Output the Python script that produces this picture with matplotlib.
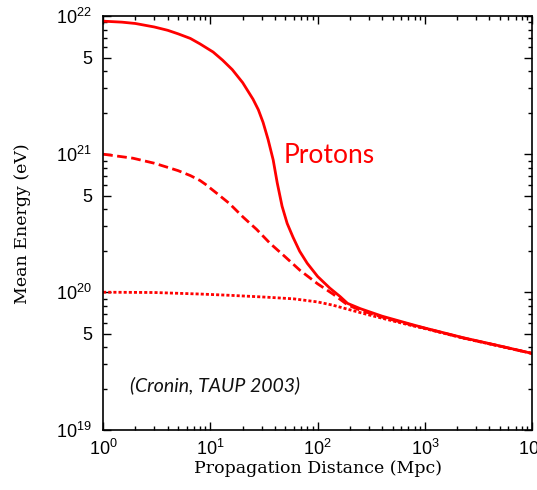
import matplotlib
matplotlib.use("Agg")
import matplotlib.pyplot as plt
from matplotlib.ticker import FixedLocator, LogLocator, NullFormatter

# Mean energy vs propagation distance (proton primaries)
dist_a = [1, 1.5, 2, 3, 4, 5, 6.5, 8, 10.6, 13, 16, 20, 25, 28, 31, 34.5, 38.5,
          42, 46.6, 52, 59, 68, 80, 100, 130, 162, 190, 250, 400, 776, 1000,
          2275, 5000, 10000]
energy_a = [9.2e21, 9.05e21, 8.85e21, 8.35e21, 7.9e21, 7.45e21, 6.9e21, 6.3e21,
            5.5e21, 4.8e21, 4.1e21, 3.3e21, 2.5e21, 2.1e21, 1.7e21, 1.28e21,
            9.1e20, 6.2e20, 4.2e20, 3.15e20, 2.5e20, 1.98e20, 1.62e20, 1.3e20,
            1.07e20, 9.3e19, 8.3e19, 7.6e19, 6.7e19, 5.8e19, 5.5e19, 4.68e19,
            4.08e19, 3.6e19]

dist_b = [1, 1.9, 3, 3.95, 5, 6.5, 8, 9, 11.5, 15, 20.2, 27, 36, 50, 68.5, 100,
          139, 190, 250, 400, 776, 1000, 2275, 5000, 10000]
energy_b = [1.0e21, 9.35e20, 8.6e20, 8.05e20, 7.6e20, 7.0e20, 6.45e20, 6.05e20,
            5.2e20, 4.4e20, 3.5e20, 2.85e20, 2.26e20, 1.8e20, 1.44e20, 1.15e20,
            9.7e19, 8.1e19, 7.4e19, 6.6e19, 5.75e19, 5.48e19, 4.66e19, 4.07e19,
            3.6e19]

dist_c = [1, 3, 8, 15, 33.7, 60, 100, 139, 188, 300, 500, 776, 1000, 2275,
          5000, 10000]
energy_c = [1.0e20, 9.95e19, 9.7e19, 9.5e19, 9.2e19, 8.95e19, 8.5e19, 8.05e19,
            7.55e19, 6.85e19, 6.2e19, 5.7e19, 5.45e19, 4.65e19, 4.06e19, 3.6e19]

y_ticks = [1e19, 5e19, 1e20, 5e20, 1e21, 5e21, 1e22]
y_labels = ["$10^{19}$", "5", "$10^{20}$", "5", "$10^{21}$", "5", "$10^{22}$"]
x_ticks = [1, 10, 100, 1000, 10000]
x_labels = ["$10^{0}$", "$10^{1}$", "$10^{2}$", "$10^{3}$", "$10^{4}$"]

plt.rcParams["font.family"] = ["Liberation Sans", "DejaVu Sans"]
plt.rcParams["mathtext.default"] = "regular"

fig = plt.figure(figsize=(5.37, 4.90), dpi=100)
ax = fig.add_axes([0.192, 0.122, 0.799, 0.845])

red = "#ff0000"
ax.plot(dist_a, energy_a, color=red, lw=2.0)
ax.plot(dist_b, energy_b, color=red, lw=2.0, dashes=(3.5, 1.6))
ax.plot(dist_c, energy_c, color=red, lw=2.0, dashes=(1.1, 0.75))

ax.set_xscale("log")
ax.set_yscale("log")
ax.set_xlim(1, 1e4)
ax.set_ylim(1e19, 1e22)

ax.yaxis.set_major_locator(FixedLocator(y_ticks))
ax.set_yticklabels(y_labels)
ax.xaxis.set_major_locator(FixedLocator(x_ticks))
ax.set_xticklabels(x_labels)
ax.xaxis.set_minor_locator(LogLocator(base=10, subs=[2, 3, 4, 5, 6, 7, 8, 9]))
ax.yaxis.set_minor_locator(LogLocator(base=10, subs=[2, 3, 4, 6, 7, 8, 9]))
ax.xaxis.set_minor_formatter(NullFormatter())
ax.yaxis.set_minor_formatter(NullFormatter())

ax.tick_params(which="both", direction="in", top=True, right=True,
               width=1.0, labelsize=13, colors="black")
ax.tick_params(which="major", length=6)
ax.tick_params(which="minor", length=3)
ax.tick_params(axis="y", which="major", pad=8)
ax.tick_params(axis="x", which="major", pad=6)
for s in ax.spines.values():
    s.set_linewidth(1.2)

ax.set_xlabel("Propagation Distance (Mpc)", family="DejaVu Serif",
              fontsize=12.5, labelpad=1)
ax.set_ylabel("Mean Energy (eV)", family="DejaVu Serif", fontsize=12.5,
              labelpad=18)

ax.text(0.42, 0.664, "Protons", transform=ax.transAxes, color=red,
        family="Lato", fontsize=19, ha="left", va="center")
ax.text(0.063, 0.109, "(Cronin, TAUP 2003)", transform=ax.transAxes,
        color="#111111", family="Lato", style="italic", fontsize=14,
        ha="left", va="center")

fig.savefig("out.png", dpi=100)
